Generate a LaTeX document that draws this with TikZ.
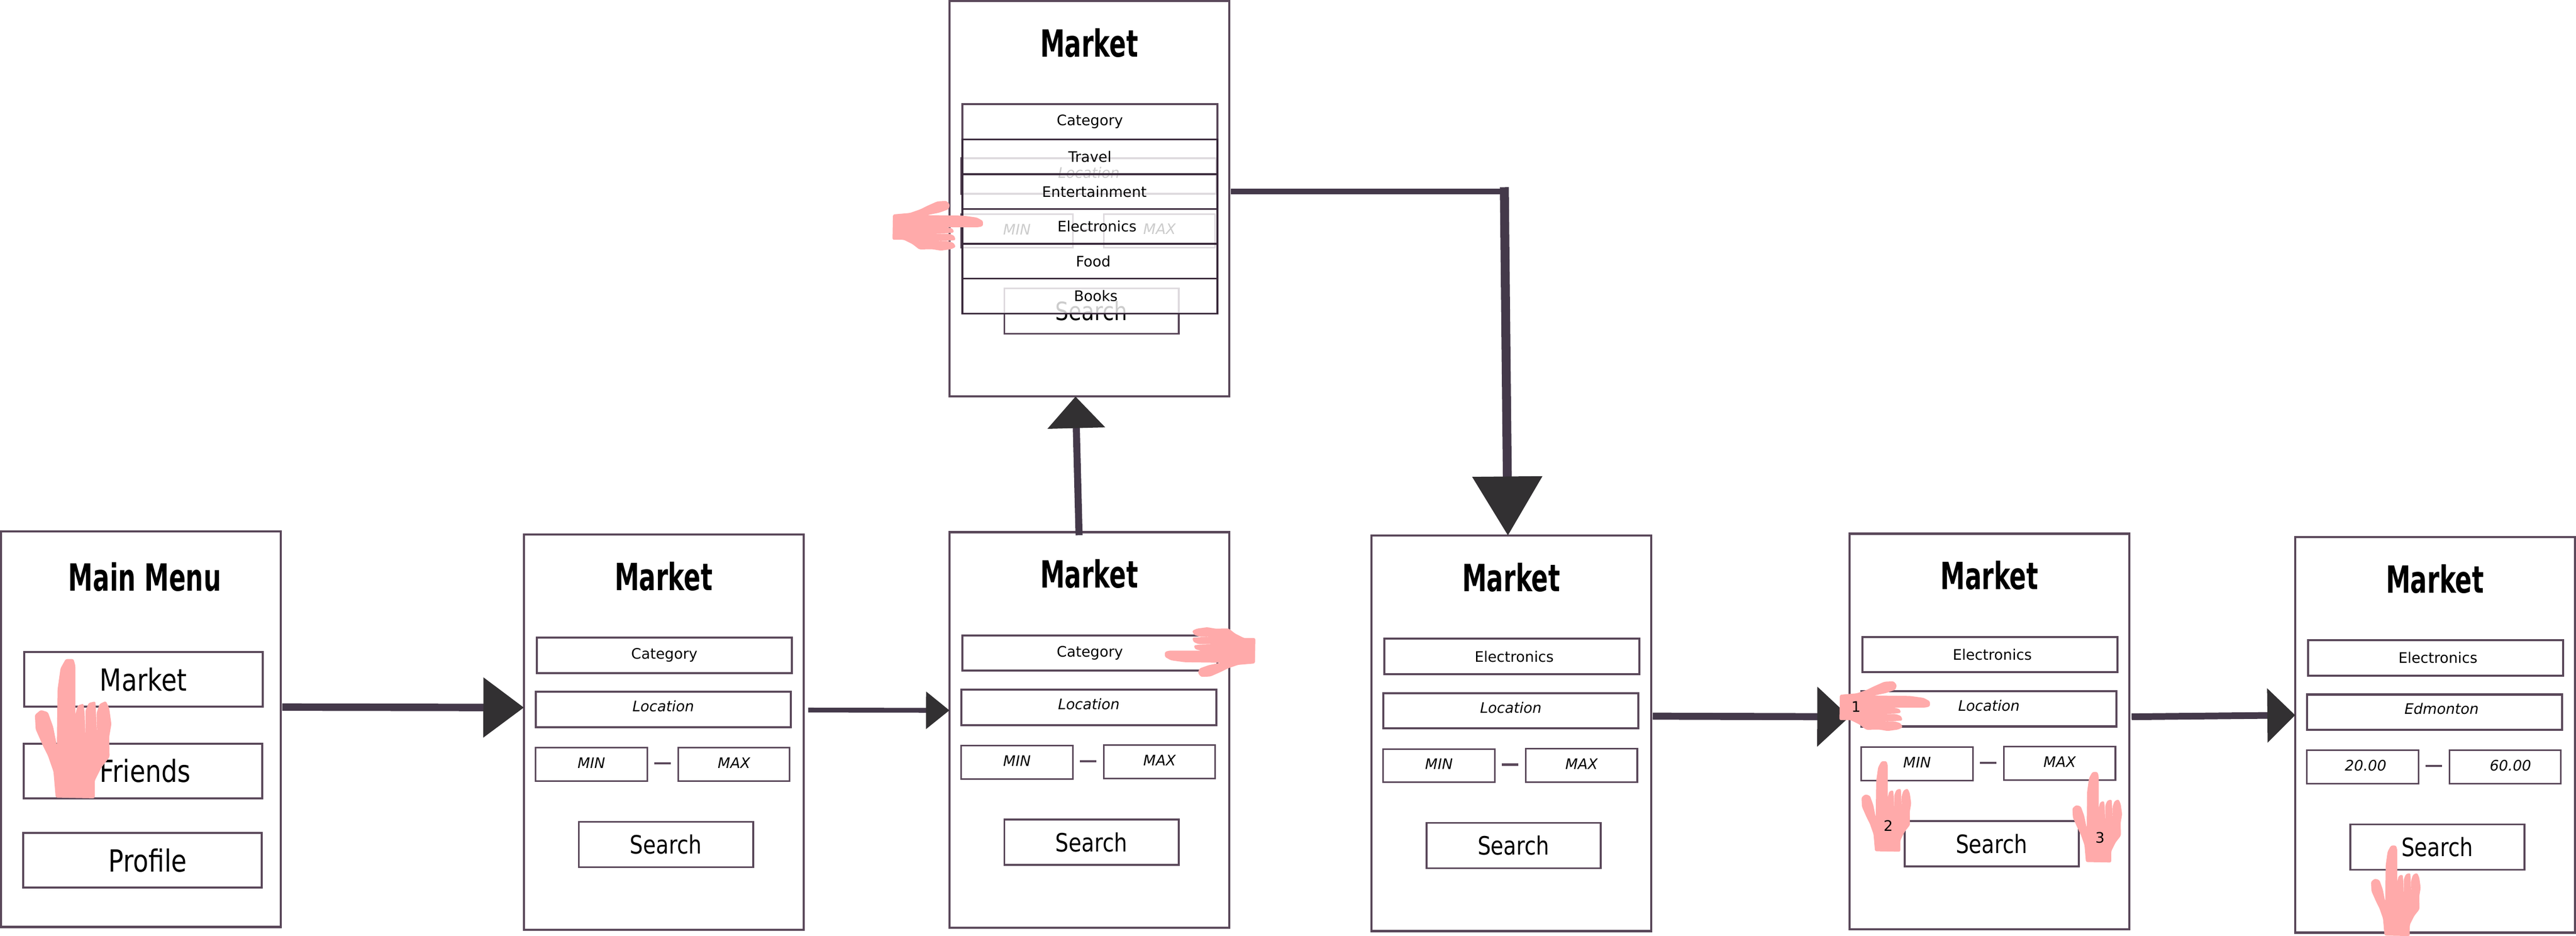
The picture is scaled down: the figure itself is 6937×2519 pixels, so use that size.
\documentclass[tikz,border=0pt]{standalone}
\usepackage{fontspec}
\usetikzlibrary{arrows.meta}
\setmainfont{DejaVu Sans}
\newfontfamily\titlefont[FakeStretch=0.66]{DejaVu Sans}
\newfontfamily\widefont[FakeStretch=0.83]{DejaVu Sans}
\definecolor{framecol}{HTML}{5A485A}
\definecolor{itemcol}{HTML}{3A2A3C}
\definecolor{shaftcol}{HTML}{44394A}
\definecolor{headcol}{HTML}{323032}
\definecolor{handcol}{HTML}{FFAAAA}
\tikzset{
   screenbox/.style={draw=framecol,line width=1.7pt,inner sep=0pt,outer sep=0pt,minimum width=7.53cm,minimum height=10.64cm},
   titletext/.style={inner sep=0pt,font=\titlefont\bfseries\fontsize{28.7}{30}\selectfont},
   fieldbox/.style={draw=framecol,line width=1.6pt,inner sep=0pt,minimum width=6.86cm,minimum height=0.95cm,font=\fontsize{11.1}{13}\selectfont},
   hintbox/.style={fieldbox,text depth=0.18cm,font=\itshape\fontsize{11.1}{13}\selectfont},
   rangebox/.style={draw=framecol,line width=1.2pt,inner sep=0pt,minimum width=3cm,minimum height=0.9cm,text depth=0.08cm,font=\itshape\fontsize{11.1}{13}\selectfont},
   dashbar/.style={fill=framecol,inner sep=0pt,minimum width=0.44cm,minimum height=0.06cm},
   searchbox/.style={draw=framecol,line width=1.4pt,inner sep=0pt,minimum width=4.69cm,minimum height=1.22cm,font=\widefont\fontsize{19.3}{21}\selectfont},
   menubox/.style={draw=framecol,line width=1.5pt,inner sep=0pt,minimum width=6.42cm,minimum height=1.47cm,font=\widefont\fontsize{23.3}{25}\selectfont},
   itembox/.style={draw=itemcol,line width=1.3pt,fill=white,fill opacity=0.8,draw opacity=1,text opacity=1,inner sep=0pt,minimum width=6.86cm,minimum height=0.936cm,font=\fontsize{11.1}{13}\selectfont},
   stepnumber/.style={inner sep=0pt,font=\fontsize{11.1}{13}\selectfont},
   flowline/.style={draw=shaftcol,line width=#1cm},
   flowarrow/.style n args={3}{draw=shaftcol,line width=#1cm,-{Triangle[length=#2cm,width=#3cm,fill=headcol,color=headcol]}},
   hand/.pic={
      \fill[handcol,rounded corners=1.2pt] (-52,-1)--(53,1)--(53,-46)--(71,-82)--(93,-110)--(92,-164)--(98,-199)--(92,-242)--(83,-261)
         --(66,-253)--(58,-228)--(60,-160)--(55,-260)--(37,-256)--(28,-235)--(28,-164)
         --(26,-228)--(23,-254)--(7,-249)--(-1,-217)--(-3,-153)
         --(1,-178)--(1,-356)--(-4,-374)--(-25,-374)--(-39,-349)--(-47,-292)--(-49,-142)
         --(-59,-192)--(-73,-231)--(-92,-237)--(-108,-224)--(-106,-185)--(-87,-142)--(-73,-114)--(-58,-71)--cycle;
   }
}

\begin{document}
\begin{tikzpicture}[x=0.01cm,y=-0.01cm]
   \useasboundingbox (0,0) rectangle (6937,2519);

   % main menu
   \begin{scope}[shift={(3,1431)}]
      \node[screenbox] (menu) at (376.5,532) {};
      \node[titletext] (menutitle) at (387,122) {Main Menu};
      \node[menubox] (menumarket) at (383,398) {Market};
      \node[menubox] (menufriends) at (382,644) {\hspace{0.12cm}Friends};
      \node[menubox] (menuprofile) at (381,885) {\hspace{0.28cm}Profile};
   \end{scope}

   % empty form
   \begin{scope}[shift={(1411,1439)}]
      \node[screenbox] (market1) at (376.5,532) {};
      \node[titletext] (market1title) at (376,112) {Market};
      \node[fieldbox] (market1cat) at (378,325) {Category};
      \node[hintbox] (market1loc) at (375,471) {Location};
      \node[rangebox] (market1min) at (181.5,619) {MIN\hspace{0.16cm}};
      \node[dashbar] (market1dash) at (373,616) {};
      \node[rangebox] (market1max) at (565.5,618) {MAX};
      \node[searchbox] (market1search) at (382.5,834) {Search};
   \end{scope}

   % category tapped
   \begin{scope}[shift={(2557,1433)}]
      \node[screenbox] (market2) at (376.5,532) {};
      \node[titletext] (market2title) at (376,112) {Market};
      \node[fieldbox] (market2cat) at (378,325) {Category};
      \node[hintbox] (market2loc) at (375,471) {Location};
      \node[rangebox] (market2min) at (181.5,619) {MIN\hspace{0.16cm}};
      \node[dashbar] (market2dash) at (373,616) {};
      \node[rangebox] (market2max) at (565.5,618) {MAX};
      \node[searchbox] (market2search) at (382.5,834) {Search};
   \end{scope}

   % open list
   \begin{scope}[shift={(2557,3)}]
      \node[screenbox] (market0) at (376.5,532) {};
      \node[titletext] (market0title) at (376,112) {Market};
      \node[hintbox] (market0loc) at (375,471) {Location};
      \node[rangebox] (market0min) at (181.5,619) {MIN\hspace{0.16cm}};
      \node[dashbar] (market0dash) at (373,616) {};
      \node[rangebox] (market0max) at (565.5,618) {MAX};
      \node[searchbox] (market0search) at (382.5,834) {Search};
      \node[fieldbox] (market0cat) at (378,325) {Category};
      \node[itembox] (market0travel) at (378,419) {Travel\hspace{0.14cm}};
      \node[itembox] (market0fun) at (378,513) {\hspace{0.24cm}Entertainment};
      \node[itembox] (market0elec) at (378,606.5) {\hspace{0.38cm}Electronics};
      \node[itembox] (market0food) at (378,700) {\hspace{0.18cm}Food};
      \node[itembox] (market0books) at (378,794) {\hspace{0.32cm}Books};
   \end{scope}

   % category chosen
   \begin{scope}[shift={(3693.5,1442)}]
      \node[screenbox] (market3) at (376.5,532) {};
      \node[titletext] (market3title) at (376,112) {Market};
      \node[fieldbox] (market3cat) at (378,325) {\hspace{0.12cm}Electronics};
      \node[hintbox] (market3loc) at (375,471) {Location};
      \node[rangebox] (market3min) at (181.5,619) {MIN\hspace{0.16cm}};
      \node[dashbar] (market3dash) at (373,616) {};
      \node[rangebox] (market3max) at (565.5,618) {MAX};
      \node[searchbox] (market3search) at (382.5,834) {Search};
   \end{scope}

   % fields tapped in order
   \begin{scope}[shift={(4981,1437)}]
      \node[screenbox] (market4) at (376.5,532) {};
      \node[titletext] (market4title) at (376,112) {Market};
      \node[fieldbox] (market4cat) at (378,325) {\hspace{0.12cm}Electronics};
      \node[hintbox] (market4loc) at (375,471) {Location};
      \node[rangebox] (market4min) at (181.5,619) {MIN\hspace{0.16cm}};
      \node[dashbar] (market4dash) at (373,616) {};
      \node[rangebox] (market4max) at (565.5,618) {MAX};
      \node[searchbox] (market4search) at (382.5,834) {Search};
   \end{scope}

   % filled in
   \begin{scope}[shift={(6181,1446)}]
      \node[screenbox] (market5) at (376.5,532) {};
      \node[titletext] (market5title) at (376,112) {Market};
      \node[fieldbox] (market5cat) at (378,325) {\hspace{0.12cm}Electronics};
      \node[hintbox] (market5loc) at (375,471) {\hspace{0.38cm}Edmonton};
      \node[rangebox] (market5min) at (181.5,619) {\hspace{0.16cm}20.00};
      \node[dashbar] (market5dash) at (373,616) {};
      \node[rangebox] (market5max) at (565.5,618) {\hspace{0.28cm}60.00};
      \node[searchbox] (market5search) at (382.5,834) {Search};
   \end{scope}

   \draw[flowarrow={0.2}{1.09}{1.57},shorten <=0.04cm] (menu.9.5)--(market1.170.2);
   \draw[flowarrow={0.13}{0.63}{0.98},shorten <=0.12cm] (market1.9.4)--(market2.172.44);
   \draw[flowarrow={0.19}{0.85}{1.51},shorten <=-0.08cm] (market2.93.7)--(market0.266.73);
   \coordinate (turn) at (4051,504);
   \draw[flowline=0.15,shorten <=0.04cm] (market0.3.2)--(market0.3.2 -| turn);
   \draw[flowarrow={0.24}{1.59}{1.83}] (turn)--(market3.91.4);
   \draw[flowarrow={0.19}{0.87}{1.57},shorten <=0.04cm] (market3.7.41)--(market4.174.09);
   \draw[flowarrow={0.18}{0.75}{1.42},shorten <=0.06cm] (market4.6.52)--(market5.172.88);

   \pic (handmenu) at (202,2148) {hand};
   \pic[rotate=90,scale=0.65] (handcat) at (3380,1752) {hand};
   \pic[rotate=-90,scale=0.65] (handelec) at (2404,611) {hand};
   \pic[rotate=-90,scale=0.65] (handloc) at (4954,1904) {hand};
   \pic[scale=0.65] (handmin) at (5083,2292) {hand};
   \pic[scale=0.65] (handmax) at (5651,2321) {hand};
   \pic[scale=0.65] (handsearch) at (6455,2519) {hand};

   \node[stepnumber] (stepone) at (4998,1902) {1};
   \node[stepnumber] (steptwo) at (5085,2223) {2};
   \node[stepnumber] (stepthree) at (5655,2255) {3};
\end{tikzpicture}
\end{document}
